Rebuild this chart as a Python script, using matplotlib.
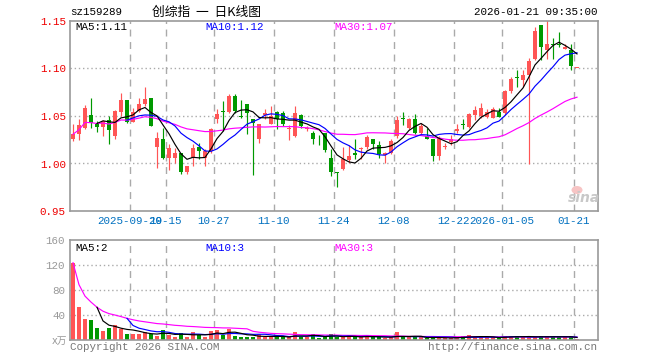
"""Daily K-line chart for sz159289 with volume panel."""

import numpy as np
import pandas as pd
import matplotlib

matplotlib.use("Agg")
from matplotlib import pyplot as plt
from matplotlib.patches import Rectangle, Ellipse

# ---- data (one entry per trading day, 2025-09-15 .. 2026-01-21)
opens = [1.0255, 1.0308, 1.0378, 1.0507, 1.0420, 1.0385, 1.0455, 1.0290, 1.0542, 1.0664,
         1.0441, 1.0552, 1.0622, 1.0685, 1.0175, 1.0255, 1.0056, 1.0063, 1.0115, 0.9906,
         1.0063, 1.0178, 1.0056, 1.0133, 1.0465, 1.0545, 1.0542, 1.0710, 1.0497, 1.0622,
         1.0470, 1.0255, 1.0507, 1.0413, 1.0542, 1.0535, 1.0367, 1.0290, 1.0507, 1.0360,
         1.0318, 1.0250, 1.0318, 1.0056, 0.9906, 0.9940, 1.0040, 1.0108, 1.0153, 1.0178,
         1.0255, 1.0192, 1.0087, 1.0115, 1.0290, 1.0475, 1.0378, 1.0470, 1.0325, 1.0290,
         1.0262, 1.0080, 1.0175, 1.0227, 1.0343, 1.0410, 1.0388, 1.0510, 1.0500, 1.0493,
         1.0483, 1.0545, 1.0528, 1.0762, 1.0908, 1.0878, 1.0930, 1.1105, 1.1455, 1.1192,
         1.1255, 1.1252, 1.1210, 1.1199, 1.1008]
highs = [1.0420, 1.0470, 1.0620, 1.0690, 1.0448, 1.0460, 1.0500, 1.0560, 1.0745, 1.0664,
         1.0587, 1.0692, 1.0800, 1.0685, 1.0330, 1.0370, 1.0200, 1.0168, 1.0115, 0.9976,
         1.0203, 1.0220, 1.0150, 1.0378, 1.0570, 1.0660, 1.0727, 1.0727, 1.0668, 1.0622,
         1.0470, 1.0413, 1.0570, 1.0600, 1.0552, 1.0552, 1.0410, 1.0600, 1.0517, 1.0395,
         1.0340, 1.0300, 1.0325, 1.0150, 0.9910, 1.0170, 1.0190, 1.0255, 1.0178, 1.0297,
         1.0255, 1.0238, 1.0122, 1.0255, 1.0500, 1.0542, 1.0480, 1.0517, 1.0430, 1.0378,
         1.0262, 1.0290, 1.0220, 1.0297, 1.0413, 1.0465, 1.0528, 1.0608, 1.0633, 1.0573,
         1.0598, 1.0580, 1.0773, 1.0913, 1.0983, 1.0983, 1.1112, 1.1437, 1.1455, 1.1507,
         1.1322, 1.1385, 1.1262, 1.1262, 1.1010]
lows = [1.0240, 1.0245, 1.0367, 1.0371, 1.0332, 1.0290, 1.0210, 1.0255, 1.0500, 1.0423,
        1.0435, 1.0540, 1.0600, 1.0390, 0.9955, 1.0045, 0.9930, 1.0010, 0.9888, 0.9888,
        0.9976, 1.0045, 0.9970, 1.0115, 1.0430, 1.0343, 1.0535, 1.0535, 1.0480, 1.0310,
        0.9880, 1.0220, 1.0470, 1.0413, 1.0360, 1.0395, 1.0248, 1.0280, 1.0378, 1.0343,
        1.0203, 1.0190, 1.0122, 0.9870, 0.9750, 0.9930, 1.0010, 1.0045, 1.0045, 1.0157,
        1.0157, 1.0063, 1.0010, 1.0098, 1.0273, 1.0410, 1.0360, 1.0308, 1.0308, 1.0255,
        1.0028, 1.0038, 1.0150, 1.0190, 1.0325, 1.0360, 1.0370, 1.0458, 1.0476, 1.0476,
        1.0476, 1.0493, 1.0510, 1.0745, 1.0808, 1.0808, 0.9990, 1.1087, 1.1087, 1.1105,
        1.1105, 1.1227, 1.1200, 1.0983, 1.1006]
closes = [1.0308, 1.0402, 1.0587, 1.0423, 1.0385, 1.0448, 1.0353, 1.0552, 1.0664, 1.0441,
          1.0545, 1.0622, 1.0675, 1.0400, 1.0266, 1.0063, 1.0161, 1.0115, 0.9906, 0.9976,
          1.0168, 1.0133, 1.0133, 1.0360, 1.0517, 1.0542, 1.0710, 1.0552, 1.0490, 1.0535,
          1.0430, 1.0413, 1.0535, 1.0500, 1.0465, 1.0413, 1.0370, 1.0535, 1.0395, 1.0370,
          1.0255, 1.0245, 1.0143, 0.9910, 0.9900, 1.0050, 1.0080, 1.0087, 1.0157, 1.0283,
          1.0203, 1.0098, 1.0108, 1.0238, 1.0455, 1.0470, 1.0470, 1.0318, 1.0395, 1.0255,
          1.0080, 1.0273, 1.0178, 1.0255, 1.0360, 1.0405, 1.0517, 1.0563, 1.0587, 1.0538,
          1.0570, 1.0493, 1.0762, 1.0885, 1.0905, 1.0930, 1.1077, 1.1392, 1.1227, 1.1262,
          1.1252, 1.1250, 1.1227, 1.1028, 1.1010]
volumes = [123.7, 53.3, 33.6, 32.0, 19.2, 14.4, 19.2, 24.0, 17.6, 9.6,
           9.6, 9.6, 12.3, 9.6, 6.4, 16.0, 8.0, 4.8, 11.2, 4.8,
           12.8, 8.0, 4.8, 14.4, 16.0, 8.0, 18.0, 6.4, 4.8, 4.8,
           4.8, 9.6, 4.8, 4.8, 4.8, 4.8, 4.8, 12.8, 4.8, 4.8,
           9.6, 3.2, 4.8, 9.0, 5.3, 4.3, 5.3, 5.3, 4.3, 8.0,
           4.3, 4.3, 2.7, 4.3, 12.8, 4.3, 4.3, 4.3, 4.3, 2.7,
           4.3, 4.3, 2.7, 2.7, 4.3, 6.4, 8.0, 4.3, 4.3, 4.3,
           4.3, 2.7, 6.4, 6.4, 6.4, 4.3, 4.3, 4.3, 6.4, 6.4,
           4.3, 4.3, 4.3, 6.4, 1.0]

date_ticks = [10, 16, 24, 34, 44, 54, 64, 72, 84]
date_labels = ["2025-09-29", "10-15", "10-27", "11-10", "11-24",
               "12-08", "12-22", "2026-01-05", "01-21"]
price_ticks = [0.95, 1.00, 1.05, 1.10, 1.15]
volume_ticks = [40, 80, 120, 160]

# ---- styling
RED = "#ff5555"
GREEN = "#009900"
GRID = "#aaaaaa"
FRAME = "#999999"
MONO = "Liberation Mono"
plt.rcParams["font.family"] = [MONO, "Noto Sans CJK SC", "DejaVu Sans"]

W, H = 660, 360
fig = plt.figure(figsize=(W / 100, H / 100), dpi=100)
fig.patch.set_facecolor("white")


def box(left, top, right, bottom):
    return [left / W, 1 - bottom / H, (right - left) / W, (bottom - top) / H]


def put(px, py, s, **kw):
    # pixel position measured from the top-left corner
    kw.setdefault("va", "center")
    return fig.text(px / W, 1 - py / H, s, **kw)


ax = fig.add_axes(box(70, 21, 598, 211))
axv = fig.add_axes(box(70, 240, 598, 340))

n = len(closes)
x = np.arange(n)
df = pd.DataFrame({"o": opens, "h": highs, "l": lows, "c": closes, "v": volumes})
up = df["c"] >= df["o"]
colors = [RED if u else GREEN for u in up]

for a in (ax, axv):
    a.set_xlim(-0.5, 87.5)
    for s in a.spines.values():
        s.set_color(FRAME)
        s.set_linewidth(1.2)
    a.tick_params(length=0)
    a.set_xticks([])
    for k in date_ticks:
        a.axvline(k - 0.5, color=GRID, lw=1, ls=(0, (5, 4)), zorder=0)

# ---- price panel
ax.set_ylim(0.95, 1.15)
for p in price_ticks[1:-1]:
    ax.axhline(p, color=GRID, lw=1, ls=(0, (1, 2)), zorder=0)
ax.set_yticks(price_ticks)
ax.set_yticklabels([f"{p:.2f}" for p in price_ticks], color="#ee0000", fontsize=7.8)
ax.tick_params(axis="y", pad=3)

for i in range(n):
    o, h, l, c = df.loc[i, ["o", "h", "l", "c"]]
    ax.vlines(i, l, h, color=colors[i], lw=0.85, zorder=2)
    bottom = min(o, c)
    height = max(abs(c - o), 0.0006)
    ax.add_patch(Rectangle((i - 0.38, bottom), 0.76, height, color=colors[i], lw=0, zorder=3))

ma5 = df["c"].rolling(5).mean()
ma10 = df["c"].rolling(10).mean()
ma30 = df["c"].rolling(30, min_periods=1).mean()
ax.plot(x, ma30, color="#ff00ff", lw=0.85, zorder=4)
ax.plot(x, ma10, color="#0000ff", lw=0.85, zorder=4)
ax.plot(x, ma5, color="black", lw=0.85, zorder=4)

put(75, 27, "MA5:1.11", color="black", fontsize=7.8)
put(205, 27, "MA10:1.12", color="#0000ff", fontsize=7.8)
put(334, 27, "MA30:1.07", color="#ff00ff", fontsize=7.8)

# date labels: the first two overlap in the original chart as well
for k, lab in zip(date_ticks, date_labels):
    put(70 + 6 * k, 221, lab, color="#0070c0", fontsize=7.8, ha="center")

# sina watermark
ax.add_patch(Ellipse((577, H - 190), 11, 8, transform=None, color="#f7c4c4", lw=0, zorder=1))
put(584, 198, "sina", color="#c8c8c8", fontsize=10, fontweight="bold",
    style="italic", family="DejaVu Sans", ha="center")

# ---- volume panel
axv.set_ylim(0, 160)
for v in volume_ticks[:-1]:
    axv.axhline(v, color=GRID, lw=1, ls=(0, (1, 2)), zorder=0)
axv.set_yticks(volume_ticks)
axv.set_yticklabels([str(v) for v in volume_ticks], color="#999999", fontsize=7.8)
axv.bar(x, df["v"], width=0.82, color=colors, lw=0, zorder=2)
axv.plot(x, df["v"].rolling(30, min_periods=1).mean(), color="#ff00ff", lw=0.85, zorder=4)
axv.plot(x, df["v"].rolling(10).mean(), color="#0000ff", lw=0.85, zorder=4)
axv.plot(x, df["v"].rolling(5).mean(), color="black", lw=0.85, zorder=4)

put(75, 248, "MA5:2", color="black", fontsize=7.8)
put(205, 248, "MA10:3", color="#0000ff", fontsize=7.8)
put(334, 248, "MA30:3", color="#ff00ff", fontsize=7.8)

# ---- header / footer text
put(70, 12, "sz159289", color="black", fontsize=7.8)
put(207, 12, "创综指  一  日K线图", color="black", fontsize=9.2, ha="center",
    family=["Noto Sans CJK SC", "DejaVu Sans"])
put(597, 12, "2026-01-21 09:35:00", color="black", fontsize=7.8, ha="right")
put(59, 341, "x万", color="#999999", fontsize=7, ha="center",
    family=["DejaVu Sans", "Noto Sans CJK SC"])
put(70, 347, "Copyright 2026 SINA.COM", color="#777777", fontsize=7.8)
put(597, 347, "http://finance.sina.com.cn", color="#777777", fontsize=7.8, ha="right")

fig.savefig("out.png", dpi=100, facecolor="white")
